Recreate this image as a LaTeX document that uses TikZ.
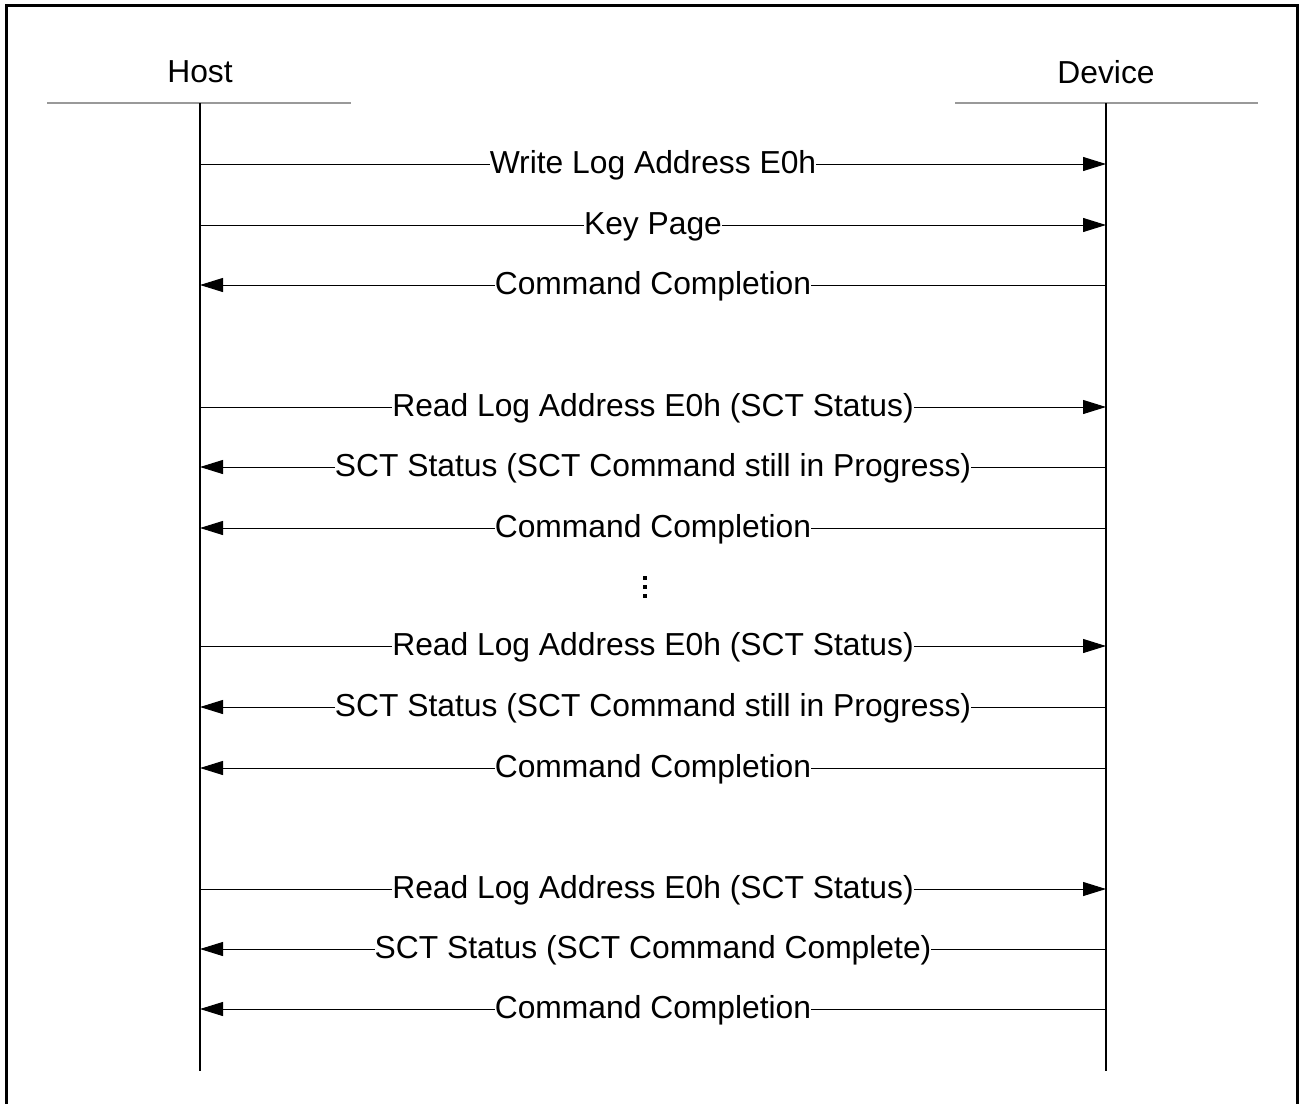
\documentclass[tikz,border=0pt]{standalone}
\usepackage{fontspec}
\setmainfont{Liberation Sans}
\usetikzlibrary{arrows.meta}

\tikzset{
	msg/.style={line width=0.5pt, -{Triangle[length=11.5pt,width=7pt]}},
	lbl/.style={fill=white, inner xsep=0pt, inner ysep=1pt, font=\fontsize{15.9}{19}\selectfont},
	headline/.style={draw=gray!80, line width=1pt},
	lifeline/.style={line width=0.6pt}
}

\begin{document}
\begin{tikzpicture}[x=0.5pt, y=-0.5pt]
	\useasboundingbox (0,0) rectangle (1300,1103);
	\draw[line width=1.5pt] (6,5) rectangle (1297,1120);
	
	% lifelines
	\node[lbl] (host) at (200,72) {Host};
	\node[lbl] (device) at (1106,72) {Device};
	\draw[headline] (47,103) -- (351,103);
	\draw[headline] (955,103) -- (1258,103);
	\coordinate (hosttop) at (200,103);
	\coordinate (hostend) at (200,1071);
	\coordinate (devtop) at (1106,103);
	\coordinate (devend) at (1106,1071);
	\draw[lifeline] (hosttop) -- (hostend);
	\draw[lifeline] (devtop) -- (devend);
	
	% message ends
	\coordinate (h1) at (200,164);   \coordinate (d1) at (1106,164);
	\coordinate (h2) at (200,225);   \coordinate (d2) at (1106,225);
	\coordinate (h3) at (200,285);   \coordinate (d3) at (1106,285);
	\coordinate (h4) at (200,407);   \coordinate (d4) at (1106,407);
	\coordinate (h5) at (200,467);   \coordinate (d5) at (1106,467);
	\coordinate (h6) at (200,528);   \coordinate (d6) at (1106,528);
	\coordinate (h7) at (200,646);   \coordinate (d7) at (1106,646);
	\coordinate (h8) at (200,707);   \coordinate (d8) at (1106,707);
	\coordinate (h9) at (200,768);   \coordinate (d9) at (1106,768);
	\coordinate (h10) at (200,889);  \coordinate (d10) at (1106,889);
	\coordinate (h11) at (200,949);  \coordinate (d11) at (1106,949);
	\coordinate (h12) at (200,1009); \coordinate (d12) at (1106,1009);
	
	\path (h1) edge[msg] node[lbl, yshift=-0.7pt]{Write Log Address E0h} (d1);
	\path (h2) edge[msg] node[lbl, yshift=-0.7pt]{Key Page} (d2);
	\path (d3) edge[msg] node[lbl, yshift=-0.7pt]{Command Completion} (h3);
	
	\path (h4) edge[msg] node[lbl, yshift=-0.7pt]{Read Log Address E0h (SCT Status)} (d4);
	\path (d5) edge[msg] node[lbl, yshift=-0.7pt]{SCT Status (SCT Command still in Progress)} (h5);
	\path (d6) edge[msg] node[lbl, yshift=-0.7pt]{Command Completion} (h6);
	
	% gap
	\fill (643.3,576.3) rectangle (647.3,580.3);
	\fill (643.3,585) rectangle (647.3,589);
	\fill (643.3,593.7) rectangle (647.3,597.7);
	
	\path (h7) edge[msg] node[lbl, yshift=-0.7pt]{Read Log Address E0h (SCT Status)} (d7);
	\path (d8) edge[msg] node[lbl, yshift=-0.7pt]{SCT Status (SCT Command still in Progress)} (h8);
	\path (d9) edge[msg] node[lbl, yshift=-0.7pt]{Command Completion} (h9);
	
	\path (h10) edge[msg] node[lbl, yshift=-0.7pt]{Read Log Address E0h (SCT Status)} (d10);
	\path (d11) edge[msg] node[lbl, yshift=-0.7pt]{SCT Status (SCT Command Complete)} (h11);
	\path (d12) edge[msg] node[lbl, yshift=-0.7pt]{Command Completion} (h12);
\end{tikzpicture}
\end{document}
